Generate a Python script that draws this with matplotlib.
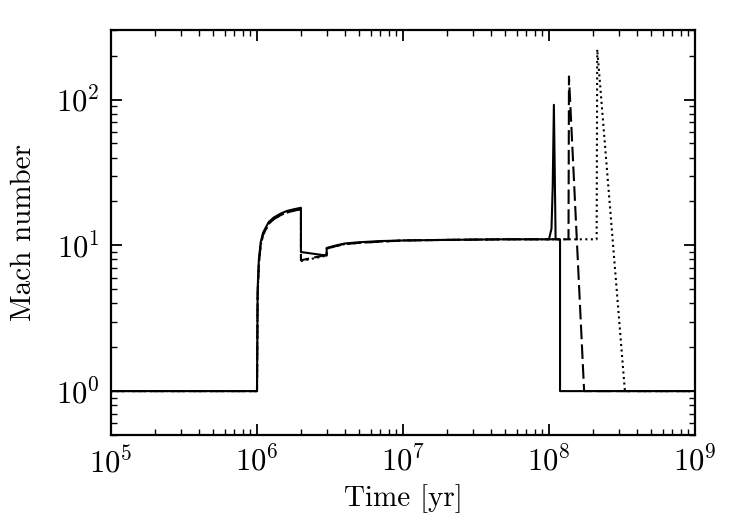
import numpy as np
import matplotlib
matplotlib.use("Agg")
import matplotlib.pyplot as plt

plt.rcParams['font.family'] = 'serif'
plt.rcParams['font.serif'] = ['cmr10']
plt.rcParams['mathtext.fontset'] = 'cm'
plt.rcParams['axes.formatter.use_mathtext'] = True
plt.rcParams['axes.unicode_minus'] = False

# time in yr, Mach number
t_solid = [1e5, 1.0e6, 1.01e6, 1.03e6, 1.06e6, 1.1e6, 1.2e6, 1.3e6, 1.45e6, 1.6e6, 1.8e6, 2.0e6,
           2.0e6, 3.0e6, 3.0e6, 3.5e6, 4e6, 5e6, 7e6, 1e7, 2e7, 5e7, 1.0e8, 1.04e8, 1.06e8, 1.08e8,
           1.11e8, 1.19e8, 1.19e8, 1e9]
m_solid = [1.0, 1.0, 5.0, 8.0, 10.5, 12.2, 14.4, 15.5, 16.5, 17.2, 17.7, 18.1,
           9.0, 8.5, 9.6, 10.0, 10.3, 10.5, 10.7, 10.8, 10.9, 11.0, 11.0, 13.0, 25.0, 92.0,
           11.0, 11.0, 1.0, 1.0]

t_dash = [1e5, 1.0e6, 1.01e6, 1.03e6, 1.06e6, 1.1e6, 1.2e6, 1.3e6, 1.45e6, 1.6e6, 1.8e6, 2.0e6,
          2.0e6, 3.0e6, 3.0e6, 3.5e6, 4e6, 5e6, 7e6, 1e7, 2e7, 5e7, 1.0e8, 1.36e8, 1.37e8,
          1.74e8, 1e9]
m_dash = [1.0, 1.0, 4.5, 7.5, 10.0, 11.8, 14.0, 15.1, 16.1, 16.8, 17.3, 17.7,
          7.9, 8.6, 9.5, 9.9, 10.2, 10.4, 10.6, 10.8, 10.9, 11.0, 11.0, 11.0, 144.0,
          1.0, 1.0]

t_dot = [1e5, 1.0e6, 1.01e6, 1.03e6, 1.06e6, 1.1e6, 1.2e6, 1.3e6, 1.45e6, 1.6e6, 1.8e6, 2.0e6,
         2.0e6, 3.0e6, 3.0e6, 3.5e6, 4e6, 5e6, 7e6, 1e7, 2e7, 5e7, 1.0e8, 2.12e8, 2.14e8,
         3.31e8, 1e9]
m_dot = [1.0, 1.0, 4.5, 7.5, 10.0, 11.8, 14.0, 15.1, 16.1, 16.8, 17.3, 17.7,
         7.8, 8.5, 9.5, 9.9, 10.2, 10.4, 10.6, 10.8, 10.9, 11.0, 11.0, 11.0, 221.0,
         1.0, 1.0]

fig = plt.figure(figsize=(7.41, 5.19), dpi=100)
ax = fig.add_axes([111 / 741, 1 - 435 / 519, 584 / 741, 405 / 519])

ax.plot(t_dot, m_dot, color='black', linestyle=':', linewidth=1.5)
ax.plot(t_dash, m_dash, color='black', linestyle='--', dashes=(7, 2.5), linewidth=1.5)
ax.plot(t_solid, m_solid, color='black', linestyle='-', linewidth=1.5)

ax.set_xscale('log')
ax.set_yscale('log')
ax.set_xlim(1e5, 1e9)
ax.set_ylim(0.5, 300)

ax.set_xlabel('Time [yr]', fontsize=21, labelpad=4)
ax.set_ylabel('Mach number', fontsize=21, labelpad=14)

for s in ax.spines.values():
    s.set_linewidth(1.6)
ax.tick_params(which='both', direction='in', top=True, right=True, labelsize=22)
ax.tick_params(which='major', length=8, width=1.3, pad=8)
ax.tick_params(which='minor', length=4, width=1.0)

fig.savefig('out.png', dpi=100)
